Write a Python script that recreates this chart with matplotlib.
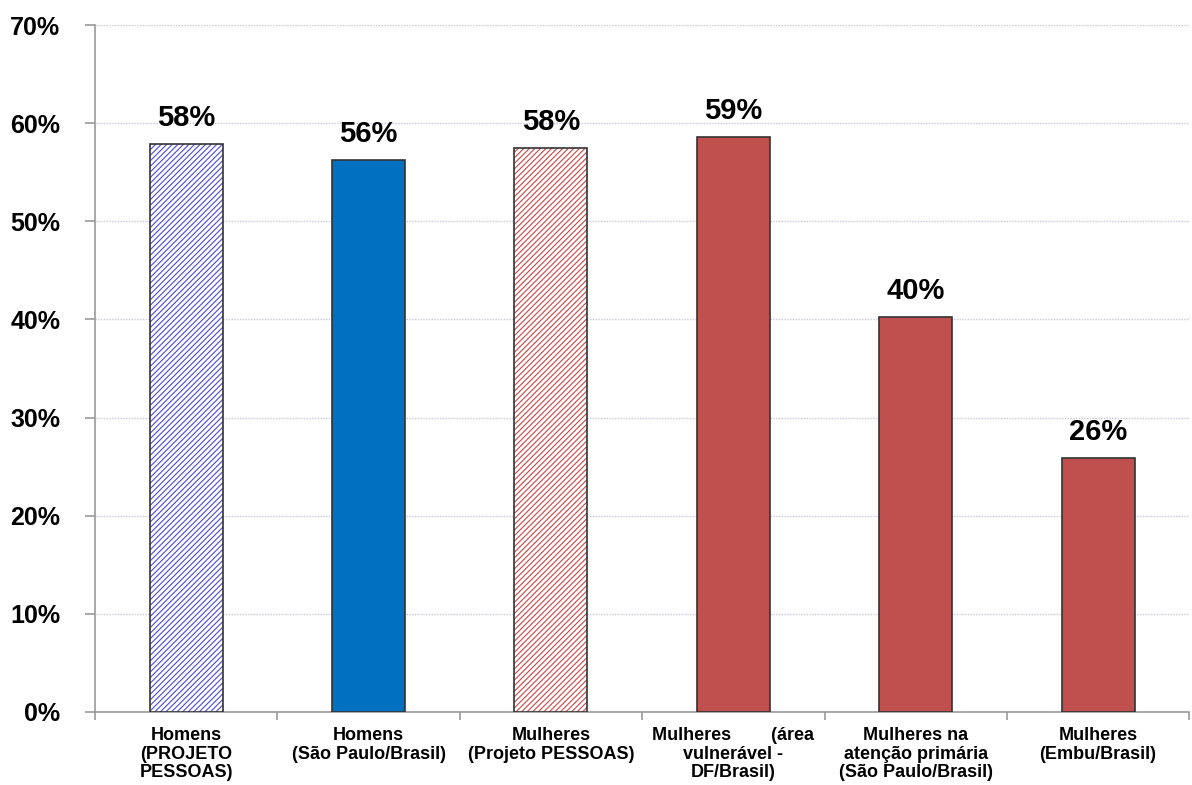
import matplotlib
matplotlib.use("Agg")
import matplotlib.pyplot as plt
import numpy as np

categories = [
    "Homens\n(PROJETO\nPESSOAS)",
    "Homens\n(São Paulo/Brasil)",
    "Mulheres\n(Projeto PESSOAS)",
    "Mulheres        (área\nvulnerável -\nDF/Brasil)",
    "Mulheres na\natenção primária\n(São Paulo/Brasil)",
    "Mulheres\n(Embu/Brasil)",
]
values = [57.9, 56.3, 57.5, 58.6, 40.3, 25.9]
value_labels = ["58%", "56%", "58%", "59%", "40%", "26%"]
colors = ["#4A4AE6", "#0070C0", "#D04545", "#C0504D", "#C0504D", "#C0504D"]
hatched = [True, False, True, False, False, False]
yticks = [0, 10, 20, 30, 40, 50, 60, 70]

plt.rcParams['font.family'] = ['Liberation Sans', 'DejaVu Sans']
plt.rcParams['hatch.linewidth'] = 0.8

fig = plt.figure(figsize=(11.92, 7.85), dpi=100)
ax = fig.add_axes([0.0797, 0.093, 0.918, 0.875])

x = np.arange(len(categories))
w = 0.4
for xi, v, c, h in zip(x, values, colors, hatched):
    if h:
        ax.bar(xi, v, w, color="white", edgecolor=c, hatch="//////", linewidth=0, zorder=3)
        ax.bar(xi, v, w, fill=False, edgecolor="#333333", linewidth=1.2, zorder=4)
    else:
        ax.bar(xi, v, w, color=c, edgecolor="#333333", linewidth=1.2, zorder=3)

for xi, v, lab in zip(x, values, value_labels):
    ax.text(xi, v + 1.2, lab, ha="center", va="bottom", fontsize=21, fontweight="bold")

ax.set_xlim(-0.5, len(categories) - 0.5)
ax.set_ylim(0, 70)
ax.set_yticks(yticks)
ax.set_yticklabels([f"{t}%" for t in yticks], fontsize=18, fontweight="bold")
ax.yaxis.grid(True, color="#C8C8DC", linestyle=(0, (1, 1)), linewidth=1.0, zorder=0)

ax.set_xticks(x)
ax.set_xticklabels(categories, fontsize=13, fontweight="bold", linespacing=1.1)
ax.set_xticks(np.arange(len(categories) + 1) - 0.5, minor=True)
ax.tick_params(axis="x", which="major", length=0, pad=11)
ax.tick_params(axis="x", which="minor", length=6, color="#999999", width=1.2)
ax.tick_params(axis="y", length=7, color="#999999", width=1.2, pad=18)

for s in ["top", "right"]:
    ax.spines[s].set_visible(False)
for s in ["left", "bottom"]:
    ax.spines[s].set_color("#999999")
    ax.spines[s].set_linewidth(1.2)

fig.savefig("out.png", dpi=100)
